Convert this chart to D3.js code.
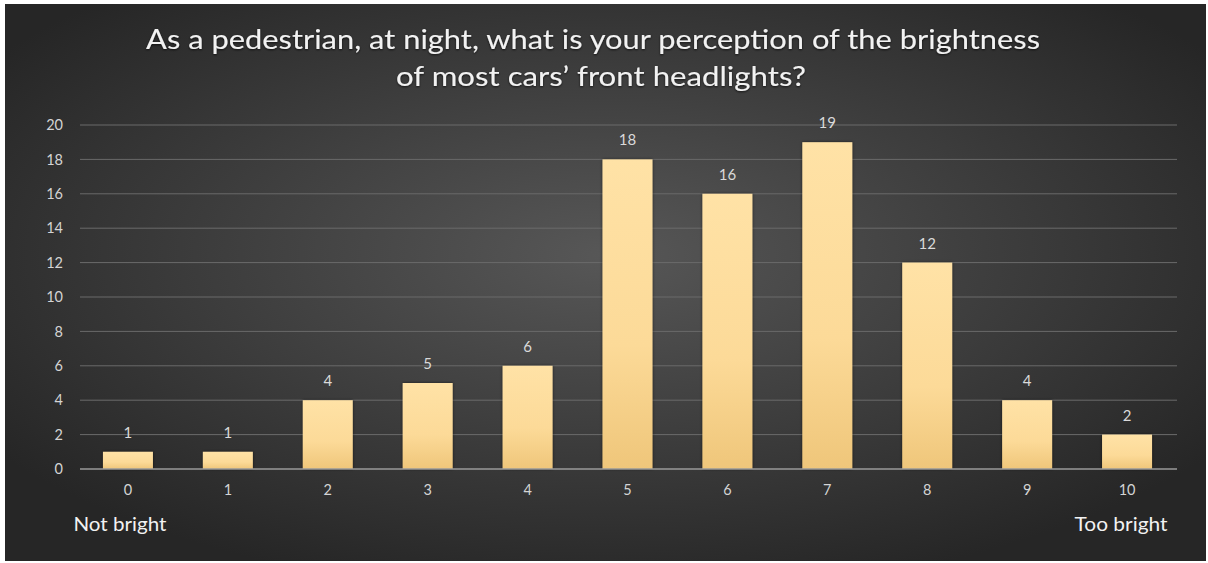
<!DOCTYPE html>
<html><head><meta charset="utf-8">
<script src="https://cdn.jsdelivr.net/npm/d3@7/dist/d3.min.js"></script>
<style>body{margin:0;background:#fff;} svg{display:block;}</style>
</head><body>
<svg id="chart" width="1208" height="563"></svg>
<script>
const categories = ["0","1","2","3","4","5","6","7","8","9","10"];
const values = [1,1,4,5,6,18,16,19,12,4,2];
const yTicks = [0,2,4,6,8,10,12,14,16,18,20];
const titleLines = ["As a pedestrian, at night, what is your perception of the brightness","of most cars\u2019 front headlights?"];
const endLabels = ["Not bright","Too bright"];

const FONT = "Lato, 'Open Sans', sans-serif";
const svg = d3.select("#chart");
const defs = svg.append("defs");
const bg = defs.append("radialGradient").attr("id","bg").attr("cx","50%").attr("cy","45%").attr("r","62%");
bg.append("stop").attr("offset","0%").attr("stop-color","#575757");
bg.append("stop").attr("offset","100%").attr("stop-color","#262626");
const bar = defs.append("linearGradient").attr("id","bar").attr("x1",0).attr("y1",0).attr("x2",0).attr("y2",1);
bar.append("stop").attr("offset","0%").attr("stop-color","#FFE2A6");
bar.append("stop").attr("offset","60%").attr("stop-color","#FCDA98");
bar.append("stop").attr("offset","100%").attr("stop-color","#EFC67A");
const sh = defs.append("filter").attr("id","sh").attr("x","-20%").attr("y","-20%").attr("width","140%").attr("height","140%");
sh.append("feDropShadow").attr("dx",0).attr("dy",0).attr("stdDeviation",1.5).attr("flood-color","#000").attr("flood-opacity",0.6);
const tsh = defs.append("filter").attr("id","tsh");
tsh.append("feDropShadow").attr("dx",0).attr("dy",1).attr("stdDeviation",1.2).attr("flood-color","#000").attr("flood-opacity",0.7);

svg.append("rect").attr("x",5).attr("y",4).attr("width",1201).attr("height",557).attr("fill","url(#bg)");

const x = d3.scaleBand().domain(categories).range([78,1177]).paddingInner(0.5).paddingOuter(0.25);
const y = d3.scaleLinear().domain([0,20]).range([469,125]);

// gridlines
svg.append("g").selectAll("line").data(yTicks.filter(d=>d>0)).join("line")
  .attr("x1",80).attr("x2",1177).attr("y1",d=>y(d)).attr("y2",d=>y(d))
  .attr("stroke","#6a6a6a").attr("stroke-width",1);

// y axis labels
const yAxis = d3.axisLeft(y).tickValues(yTicks).tickSize(0).tickPadding(0);
const gy = svg.append("g").attr("transform","translate(63,0)").call(yAxis);
gy.select(".domain").remove();
gy.selectAll("text").attr("fill","#d4d4d4").style("font-family",FONT).style("font-size","14.5px");

// bars
svg.append("g").selectAll("rect").data(values).join("rect")
  .attr("x",(d,i)=>x(categories[i])).attr("width",x.bandwidth())
  .attr("y",d=>y(d)).attr("height",d=>y(0)-y(d))
  .attr("fill","url(#bar)").attr("filter","url(#sh)");

// baseline
svg.append("line").attr("x1",80).attr("x2",1177).attr("y1",y(0)).attr("y2",y(0)).attr("stroke","#9a9a9a").attr("stroke-width",1.5);

// x axis labels
const xAxis = d3.axisBottom(x).tickSize(0).tickPadding(16);
const gx = svg.append("g").attr("transform",`translate(0,${y(0)})`).call(xAxis);
gx.select(".domain").remove();
gx.selectAll("text").attr("fill","#d4d4d4").style("font-family",FONT).style("font-size","14.5px");

// data labels
svg.append("g").selectAll("text").data(values).join("text")
  .attr("x",(d,i)=>x(categories[i])+x.bandwidth()/2).attr("y",d=>y(d)-14)
  .attr("text-anchor","middle").attr("fill","#dadada")
  .style("font-family",FONT).style("font-size","15px").text(d=>d);

// end labels
svg.append("text").attr("x",x(categories[0])+x.bandwidth()/2-8).attr("y",531).attr("text-anchor","middle")
  .attr("fill","#f2f2f2").attr("textLength",93).attr("lengthAdjust","spacingAndGlyphs")
  .style("font-family",FONT).style("font-size","19px").text(endLabels[0]);
svg.append("text").attr("x",x(categories[10])+x.bandwidth()/2-6).attr("y",531).attr("text-anchor","middle")
  .attr("fill","#f2f2f2").attr("textLength",93).attr("lengthAdjust","spacingAndGlyphs")
  .style("font-family",FONT).style("font-size","19px").text(endLabels[1]);

// title
svg.append("text").attr("x",593).attr("y",49).attr("text-anchor","middle").attr("fill","#f2f2f2")
  .attr("filter","url(#tsh)").attr("textLength",894).attr("lengthAdjust","spacingAndGlyphs")
  .style("font-family",FONT).style("font-size","26px").text(titleLines[0]);
svg.append("text").attr("x",601).attr("y",86).attr("text-anchor","middle").attr("fill","#f2f2f2")
  .attr("filter","url(#tsh)").attr("textLength",410).attr("lengthAdjust","spacingAndGlyphs")
  .style("font-family",FONT).style("font-size","26px").text(titleLines[1]);
</script>
</body></html>
